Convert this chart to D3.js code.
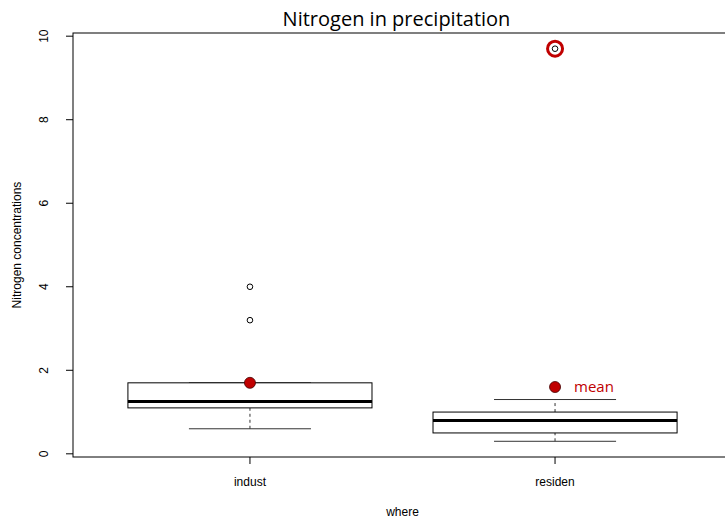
<!DOCTYPE html>
<html>
<head>
<meta charset="utf-8">
<script src="https://cdn.jsdelivr.net/npm/d3@7"></script>
<style>
  body { margin: 0; background: #fff; }
  text { font-family: "Liberation Sans", Arial, sans-serif; }
</style>
</head>
<body>
<svg id="mainsvg" width="725" height="520"></svg>
<script>
const groups = ['indust', 'residen']
const q1 = [1.1, 0.5]
const medians = [1.25, 0.8]
const q3 = [1.7, 1.0]
const whiskLo = [0.6, 0.3]
const whiskHi = [1.7, 1.3]
const outliers = [[3.2, 4.0], [9.7]]
const means = [1.7, 1.6]
const yTicks = [0, 2, 4, 6, 8, 10]
const highlighted = { group: 1, value: 9.7 }

const svg = d3.select('#mainsvg')
const margin = { top: 33, left: 73, bottom: 63, right: -7 }
const width = +svg.attr('width')
const height = +svg.attr('height')

const x = d3.scaleLinear().domain([0.42, groups.length + 0.58])
    .range([margin.left, width - margin.right])
const y = d3.scaleLinear().domain([-0.076, 10.076])
    .range([height - margin.bottom, margin.top])

const red = '#c00000'
const boxes = groups.map((g, i) => ({
    g, i, pos: i + 1, q1: q1[i], med: medians[i], q3: q3[i],
    lo: whiskLo[i], hi: whiskHi[i], mean: means[i]
}))

const g = svg.append('g')

// whiskers (dashed)
g.selectAll('.whisk').data(boxes.flatMap(d => [[d, d.lo, d.q1], [d, d.q3, d.hi]]))
  .join('line')
  .attr('x1', d => x(d[0].pos)).attr('x2', d => x(d[0].pos))
  .attr('y1', d => y(d[1])).attr('y2', d => y(d[2]))
  .attr('stroke', '#333').attr('stroke-width', 1).attr('stroke-dasharray', '3,3')

// caps
g.selectAll('.cap').data(boxes.flatMap(d => [[d, d.lo], [d, d.hi]]))
  .join('line')
  .attr('x1', d => x(d[0].pos - 0.2)).attr('x2', d => x(d[0].pos + 0.2))
  .attr('y1', d => y(d[1])).attr('y2', d => y(d[1]))
  .attr('stroke', '#333').attr('stroke-width', 1)

// boxes
g.selectAll('.box').data(boxes).join('rect')
  .attr('x', d => x(d.pos - 0.4)).attr('width', d => x(d.pos + 0.4) - x(d.pos - 0.4))
  .attr('y', d => y(d.q3)).attr('height', d => y(d.q1) - y(d.q3))
  .attr('fill', 'white').attr('stroke', 'black').attr('stroke-width', 1)

// medians
g.selectAll('.med').data(boxes).join('line')
  .attr('x1', d => x(d.pos - 0.4)).attr('x2', d => x(d.pos + 0.4))
  .attr('y1', d => y(d.med)).attr('y2', d => y(d.med))
  .attr('stroke', 'black').attr('stroke-width', 3)

// outliers
g.selectAll('.out').data(boxes.flatMap(d => outliers[d.i].map(v => [d, v])))
  .join('circle')
  .attr('cx', d => x(d[0].pos)).attr('cy', d => y(d[1])).attr('r', 2.8)
  .attr('fill', 'none').attr('stroke', 'black').attr('stroke-width', 1)

// highlighted outlier ring
g.append('circle')
  .attr('cx', x(highlighted.group + 1)).attr('cy', y(highlighted.value)).attr('r', 7.5)
  .attr('fill', 'none').attr('stroke', red).attr('stroke-width', 3)

// means
g.selectAll('.mean').data(boxes).join('circle')
  .attr('cx', d => x(d.pos)).attr('cy', d => y(d.mean)).attr('r', 5.5)
  .attr('fill', red).attr('stroke', '#400').attr('stroke-width', 0.8)

g.append('text')
  .attr('x', x(2) + 19).attr('y', y(means[1]) + 5)
  .attr('fill', red).attr('font-size', 15).style('font-family', '"Open Sans", sans-serif')
  .text('mean')

// frame
svg.append('rect')
  .attr('x', margin.left).attr('y', margin.top)
  .attr('width', width - margin.right - margin.left)
  .attr('height', height - margin.bottom - margin.top)
  .attr('fill', 'none').attr('stroke', 'black').attr('stroke-width', 1)

// y axis
const yAxis = svg.append('g')
yAxis.selectAll('line').data(yTicks).join('line')
  .attr('x1', margin.left - 7).attr('x2', margin.left)
  .attr('y1', d => y(d)).attr('y2', d => y(d))
  .attr('stroke', 'black')
yAxis.selectAll('text').data(yTicks).join('text')
  .attr('transform', d => `translate(${margin.left - 29},${y(d)}) rotate(-90)`)
  .attr('text-anchor', 'middle').attr('dy', '0.35em')
  .attr('font-size', 12).text(d => d)

// x axis
const xAxis = svg.append('g')
xAxis.selectAll('line').data(boxes).join('line')
  .attr('x1', d => x(d.pos)).attr('x2', d => x(d.pos))
  .attr('y1', height - margin.bottom).attr('y2', height - margin.bottom + 7)
  .attr('stroke', 'black')
xAxis.selectAll('text').data(boxes).join('text')
  .attr('x', d => x(d.pos)).attr('y', height - margin.bottom + 29)
  .attr('text-anchor', 'middle').attr('font-size', 12).text(d => d.g)

// labels
svg.append('text')
  .attr('x', (margin.left + width - margin.right) / 2 - 6).attr('y', 26)
  .attr('text-anchor', 'middle').attr('font-size', 20)
  .style('font-family', '"Open Sans", sans-serif')
  .text('Nitrogen in precipitation')
svg.append('text')
  .attr('x', (margin.left + width - margin.right) / 2).attr('y', 516)
  .attr('text-anchor', 'middle').attr('font-size', 12).text('where')
svg.append('text')
  .attr('transform', `translate(21,${(margin.top + height - margin.bottom) / 2}) rotate(-90)`)
  .attr('text-anchor', 'middle').attr('font-size', 12).text('Nitrogen concentrations')
</script>
</body>
</html>
